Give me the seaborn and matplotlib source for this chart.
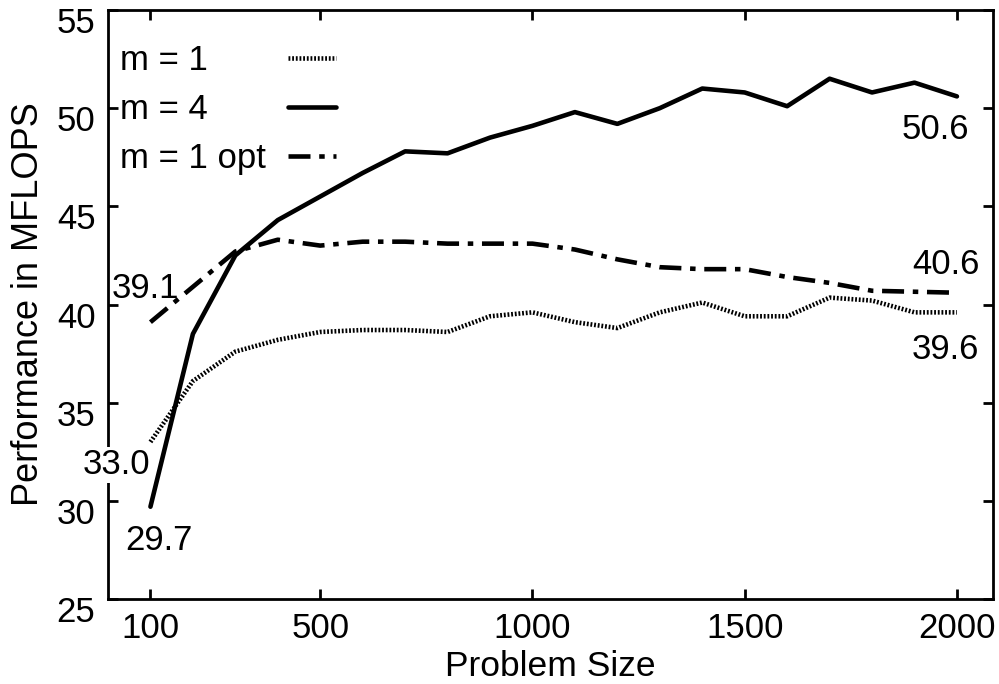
import numpy as np
import pandas as pd
import matplotlib
matplotlib.use("Agg")
import matplotlib.pyplot as plt
from matplotlib.lines import Line2D
from matplotlib.transforms import ScaledTranslation
import seaborn as sns

sizes = [100, 200, 300, 400, 500, 600, 700, 800, 900, 1000,
         1100, 1200, 1300, 1400, 1500, 1600, 1700, 1800, 1900, 2000]
m1 = [33.0, 36.1, 37.6, 38.2, 38.6, 38.7, 38.7, 38.6, 39.4, 39.6,
      39.1, 38.8, 39.6, 40.1, 39.4, 39.4, 40.35, 40.2, 39.6, 39.6]
m4 = [29.7, 38.5, 42.5, 44.3, 45.5, 46.7, 47.8, 47.7, 48.5, 49.1,
      49.8, 49.2, 50.0, 51.0, 50.8, 50.1, 51.5, 50.8, 51.3, 50.6]
m1opt = [39.1, 40.9, 42.7, 43.3, 43.0, 43.2, 43.2, 43.1, 43.1, 43.1,
         42.8, 42.3, 41.9, 41.8, 41.8, 41.4, 41.1, 40.7, 40.65, 40.6]
labels = ["m = 1", "m = 4", "m = 1 opt"]
xticks = [100, 500, 1000, 1500, 2000]
yticks = [25, 30, 35, 40, 45, 50, 55]

sns.set_theme(style="ticks")
plt.rcParams['font.family'] = ['Liberation Sans', 'DejaVu Sans']
plt.rcParams['text.color'] = 'black'
plt.rcParams['axes.labelcolor'] = 'black'
plt.rcParams['xtick.color'] = 'black'
plt.rcParams['ytick.color'] = 'black'

df = pd.DataFrame({"size": sizes, "m1": m1, "m4": m4, "m1opt": m1opt})

fig = plt.figure(figsize=(9.99, 6.84), dpi=100)
ax = fig.add_axes([108/999, 85/684, 885/999, 589/684])

lw = 3.3
sns.lineplot(data=df, x="size", y="m1", ax=ax, color="black", lw=lw,
             linestyle=(0, (0.4, 0.4)), label=labels[0])
sns.lineplot(data=df, x="size", y="m4", ax=ax, color="black", lw=lw,
             linestyle="-", label=labels[1])
sns.lineplot(data=df, x="size", y="m1opt", ax=ax, color="black", lw=lw,
             linestyle=(0, (4.8, 1.9, 1.2, 1.9)), label=labels[2])

fs = 25
ax.set_xlim(0, 2085)
ax.set_ylim(25, 55)
ax.set_xticks(xticks)
ax.set_yticks(yticks)
ax.tick_params(direction="in", length=7, width=2, labelsize=fs,
               top=True, right=True, pad=9, colors="black")
for s in ax.spines.values():
    s.set_linewidth(2)
    s.set_color("black")
ax.set_xlabel("Problem Size", fontsize=25.5, labelpad=4, color="black")
ax.set_ylabel("Performance in MFLOPS", fontsize=26, labelpad=8, color="black")

# gnuplot-style: y tick labels sit slightly below their ticks
off = ScaledTranslation(0, -10/100, fig.dpi_scale_trans)
for t in ax.yaxis.get_major_ticks():
    t.label1.set_transform(t.label1.get_transform() + off)

tk = dict(fontsize=fs, ha="center", va="center", color="black")
ax.text(88, 40.8, f"{m1opt[0]:.1f}", **tk)
ax.text(20, 31.83, f"{m1[0]:.1f}", zorder=5,
        bbox=dict(facecolor="white", edgecolor="none", pad=1), **tk)
ax.text(119, 28.0, f"{m4[0]:.1f}", **tk)
ax.text(1949, 48.9, f"{m4[-1]:.1f}", **tk)
ax.text(1973, 42.02, f"{m1opt[-1]:.1f}", **tk)
ax.text(1973, 37.7, f"{m1[-1]:.1f}", **tk)

# legend: labels in first column, line samples in second column
line_handles = ax.get_legend_handles_labels()[0]
blank = [Line2D([], [], linestyle="none") for _ in labels]
leg = ax.legend(handles=blank + line_handles,
                labels=labels + [""] * len(labels),
                ncol=2, loc="upper left", bbox_to_anchor=(-0.0493, 0.942),
                frameon=False, fontsize=fs, handlelength=1.4,
                handletextpad=0.2, columnspacing=0.63, labelspacing=0.46,
                borderpad=0, borderaxespad=0)
for t in leg.get_texts():
    t.set_color("black")

fig.savefig("out.png", dpi=100)
